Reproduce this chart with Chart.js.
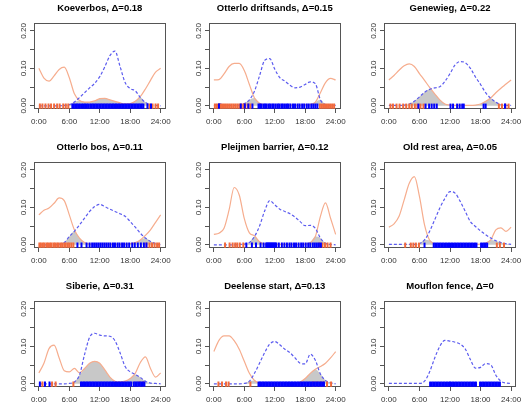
<!DOCTYPE html>
<html>
<head>
<meta charset="utf-8">
<script src="https://cdn.jsdelivr.net/npm/chart.js@4"></script>
<style>
  body { margin: 0; background: #fff; }
  #grid { position: relative; width: 526px; height: 412px; overflow: hidden; background: #fff; }
  #grid canvas { position: absolute; }
</style>
</head>
<body>
<div id="grid"></div>
<script>
const hours = [0, 1, 2, 3, 4, 5, 6, 7, 8, 9, 10, 11, 12, 13, 14, 15, 16, 17, 18, 19, 20, 21, 22, 23, 24];
const xTicks = [0, 6, 12, 18, 24];
const xTickLabels = ['0:00', '6:00', '12:00', '18:00', '24:00'];
const yTicks = [0, 0.05, 0.1, 0.15, 0.2];
const yTickLabels = ['0.00', '', '0.10', '', '0.20'];

const sites = ['Koeverbos', 'Otterlo driftsands', 'Genewieg', 'Otterlo bos', 'Pleijmen barrier',
  'Old rest area', 'Siberie', 'Deelense start', 'Mouflon fence'];
const deltas = [0.18, 0.15, 0.22, 0.11, 0.12, 0.05, 0.31, 0.13, 0];

// activity densities: orange = solid line, blue = dashed line
const koeverbosOrange = [0.100, 0.074, 0.066, 0.080, 0.097, 0.103, 0.075, 0.032, 0.014, 0.010, 0.010, 0.013, 0.019, 0.020, 0.016, 0.012, 0.008, 0.005, 0.006, 0.012, 0.025, 0.045, 0.068, 0.090, 0.100];
const koeverbosBlue = [0, 0, 0, 0, 0, 0.001, 0.003, 0.010, 0.022, 0.035, 0.048, 0.060, 0.078, 0.104, 0.134, 0.146, 0.105, 0.062, 0.046, 0.040, 0.022, 0.009, 0.003, 0.001, 0];
const driftsandsOrange = [0.069, 0.070, 0.085, 0.105, 0.113, 0.113, 0.094, 0.057, 0.021, 0.007, 0.003, 0.002, 0.002, 0.002, 0.002, 0.002, 0.002, 0.002, 0.003, 0.004, 0.010, 0.035, 0.062, 0.073, 0.069];
const driftsandsBlue = [0.001, 0.006, 0.002, 0.001, 0.001, 0.002, 0.006, 0.016, 0.039, 0.080, 0.121, 0.126, 0.098, 0.075, 0.066, 0.055, 0.048, 0.050, 0.057, 0.064, 0.059, 0.016, 0.003, 0.001, 0.001];
const genewiegOrange = [0.069, 0.081, 0.095, 0.107, 0.112, 0.105, 0.086, 0.068, 0.049, 0.032, 0.016, 0.005, 0.002, 0.001, 0.001, 0.001, 0.001, 0.002, 0.005, 0.012, 0.021, 0.035, 0.047, 0.058, 0.069];
const genewiegBlue = [0.001, 0.001, 0.001, 0.002, 0.005, 0.012, 0.024, 0.036, 0.044, 0.048, 0.051, 0.065, 0.086, 0.109, 0.118, 0.115, 0.100, 0.077, 0.057, 0.035, 0.020, 0.010, 0.003, 0.001, 0.001];
const bosOrange = [0.080, 0.092, 0.098, 0.111, 0.125, 0.118, 0.080, 0.040, 0.018, 0.006, 0.002, 0.002, 0.002, 0.002, 0.002, 0.002, 0.002, 0.002, 0.003, 0.006, 0.013, 0.025, 0.040, 0.060, 0.080];
const bosBlue = [0, 0, 0, 0, 0.002, 0.006, 0.022, 0.036, 0.053, 0.071, 0.089, 0.102, 0.108, 0.102, 0.095, 0.089, 0.083, 0.076, 0.062, 0.047, 0.031, 0.018, 0.009, 0.003, 0];
const pleijmenOrange = [0.028, 0.031, 0.044, 0.093, 0.153, 0.133, 0.070, 0.032, 0.024, 0.008, 0.002, 0.001, 0.001, 0.001, 0.001, 0.001, 0.001, 0.001, 0.002, 0.006, 0.022, 0.076, 0.112, 0.071, 0.028];
const pleijmenBlue = [0, 0, 0, 0, 0, 0.001, 0.002, 0.006, 0.022, 0.050, 0.090, 0.118, 0.107, 0.095, 0.089, 0.083, 0.074, 0.062, 0.051, 0.052, 0.044, 0.018, 0.004, 0.001, 0];
const restOrange = [0.047, 0.056, 0.076, 0.120, 0.164, 0.182, 0.129, 0.053, 0.012, 0.003, 0.001, 0.001, 0.001, 0.001, 0.001, 0.001, 0.001, 0.001, 0.002, 0.005, 0.013, 0.040, 0.045, 0.036, 0.047];
const restBlue = [0.001, 0.001, 0.001, 0.001, 0.001, 0.001, 0.003, 0.013, 0.036, 0.067, 0.098, 0.124, 0.142, 0.138, 0.116, 0.089, 0.062, 0.049, 0.037, 0.027, 0.018, 0.011, 0.006, 0.003, 0.001];
const siberieOrange = [0.029, 0.055, 0.094, 0.103, 0.069, 0.035, 0.032, 0.041, 0.029, 0.041, 0.055, 0.060, 0.055, 0.037, 0.018, 0.007, 0.005, 0.007, 0.014, 0.028, 0.057, 0.072, 0.041, 0.018, 0.029];
const siberieBlue = [0, 0, 0, 0, 0, 0, 0.001, 0.005, 0.023, 0.078, 0.124, 0.135, 0.130, 0.128, 0.127, 0.115, 0.083, 0.046, 0.032, 0.025, 0.017, 0.007, 0.002, 0.001, 0];
const deelenseOrange = [0.086, 0.116, 0.128, 0.128, 0.115, 0.092, 0.060, 0.028, 0.009, 0.002, 0.001, 0.001, 0.001, 0.001, 0.001, 0.001, 0.002, 0.005, 0.014, 0.028, 0.039, 0.046, 0.055, 0.069, 0.086];
const deelenseBlue = [0, 0, 0, 0, 0, 0, 0.001, 0.007, 0.028, 0.055, 0.083, 0.106, 0.113, 0.104, 0.092, 0.083, 0.069, 0.055, 0.053, 0.079, 0.063, 0.026, 0.009, 0.003, 0];
const mouflonOrange = [];
const mouflonBlue = [0.001, 0.001, 0.001, 0.001, 0.001, 0.001, 0.001, 0.007, 0.032, 0.069, 0.100, 0.116, 0.114, 0.111, 0.106, 0.093, 0.065, 0.042, 0.044, 0.054, 0.051, 0.023, 0.007, 0.002, 0.001];

// rug: observation times (hours)
const koeverbosRugOrange = [0.2, 0.7, 1.3, 1.9, 2.4, 3.0, 3.6, 4.1, 4.8, 5.3, 5.8, 21.8, 22.4, 23.0, 23.5];
const koeverbosRugBlue = [6.6, 6.9, 7.2, 7.5, 7.8, 8.1, 8.5, 8.8, 9.1, 9.4, 9.7, 10.1, 10.4, 10.7, 11.0, 11.3, 11.6, 11.9, 12.2, 12.5, 12.8, 13.1, 13.4, 13.7, 14.0, 14.3, 14.6, 14.9, 15.2, 15.5, 15.8, 16.1, 16.4, 16.7, 17.0, 17.3, 17.6, 17.9, 18.2, 18.5, 18.8, 19.1, 19.4, 19.7, 20.0, 20.3, 20.6, 21.4, 22.1];
const driftsandsRugOrange = [0.2, 0.6, 1.0, 1.4, 1.8, 2.2, 2.6, 3.0, 3.4, 3.8, 4.2, 4.6, 5.0, 5.4, 5.8, 6.2, 6.7, 7.2, 20.9, 21.3, 21.7, 22.1, 22.5, 22.9, 23.3, 23.7];
const driftsandsRugBlue = [1.0, 5.3, 6.1, 6.8, 7.6, 8.8, 9.1, 9.4, 9.8, 10.1, 10.4, 10.8, 11.1, 11.5, 11.8, 12.2, 12.6, 12.9, 13.3, 13.6, 14.0, 14.4, 14.7, 15.1, 15.6, 16.0, 16.5, 16.9, 17.4, 17.8, 18.3, 18.7, 19.2, 19.6, 20.0, 20.4];
const genewiegRugOrange = [0.3, 0.8, 1.5, 2.1, 2.8, 3.4, 4.0, 4.5, 5.1, 5.6, 6.2, 6.8, 21.6, 22.2, 22.9, 23.5];
const genewiegRugBlue = [5.8, 7.2, 7.9, 8.4, 8.9, 9.4, 12.1, 12.6, 13.4, 13.9, 14.4, 14.7, 18.6, 19.0, 22.8];
const bosRugOrange = [0.1, 0.4, 0.8, 1.1, 1.5, 1.8, 2.2, 2.5, 2.9, 3.2, 3.6, 3.9, 4.3, 4.6, 5.0, 5.3, 5.7, 6.0, 6.4, 6.8, 21.2, 21.8, 22.3, 22.8, 23.3, 23.7];
const bosRugBlue = [7.6, 8.4, 9.4, 10.0, 10.5, 10.9, 11.3, 11.7, 12.1, 12.5, 12.9, 13.3, 13.7, 14.1, 14.6, 15.0, 15.5, 15.9, 16.4, 16.8, 17.3, 17.8, 18.4, 18.9, 19.5, 20.1, 20.7, 21.2];
const pleijmenRugOrange = [2.2, 3.1, 3.7, 4.2, 4.6, 5.1, 5.8, 20.8, 21.4, 21.9, 22.4, 23.0];
const pleijmenRugBlue = [6.4, 7.5, 8.3, 9.2, 9.8, 10.3, 10.5, 10.7, 10.9, 11.1, 11.3, 11.5, 11.7, 11.9, 12.1, 12.3, 12.8, 13.4, 13.9, 14.4, 14.9, 15.3, 15.8, 16.2, 16.7, 17.2, 17.6, 18.1, 18.6, 19.0, 19.5, 19.9, 20.3, 20.7, 21.1];
const restRugOrange = [3.2, 4.3, 4.8, 5.3, 5.9, 21.2, 21.8, 22.6];
const restRugBlue = [7.0, 8.8, 9.1, 9.4, 9.7, 10.0, 10.3, 10.6, 10.9, 11.2, 11.5, 11.8, 12.1, 12.4, 12.7, 13.0, 13.3, 13.6, 13.9, 14.2, 14.5, 14.8, 15.1, 15.4, 15.7, 16.0, 16.3, 16.6, 16.9, 17.2, 18.1, 18.4, 18.7, 19.0, 19.3];
const siberieRugOrange = [0.7, 2.6, 3.3, 6.8, 19.8, 20.6];
const siberieRugBlue = [0.2, 1.2, 2.1, 8.3, 8.6, 8.9, 9.2, 9.5, 9.8, 10.1, 10.4, 10.7, 11.0, 11.3, 11.6, 11.9, 12.2, 12.5, 12.8, 13.1, 13.4, 13.7, 14.0, 14.3, 14.6, 14.9, 15.2, 15.5, 15.8, 16.1, 16.4, 16.7, 17.0, 17.3, 17.6, 17.9, 18.2, 18.7, 19.0, 19.3, 19.6, 19.9, 20.2, 20.5, 20.8];
const deelenseRugOrange = [0.9, 1.6, 2.4, 2.9, 7.2, 19.6, 20.3, 21.0, 21.6, 22.3, 23.1];
const deelenseRugBlue = [8.8, 9.1, 9.4, 9.7, 10.0, 10.3, 10.6, 10.9, 11.2, 11.5, 11.8, 12.1, 12.4, 12.7, 13.0, 13.3, 13.6, 13.9, 14.2, 14.5, 14.8, 15.1, 15.4, 15.7, 16.0, 16.3, 16.6, 16.9, 17.2, 17.5, 17.8, 18.1, 18.4, 18.7, 19.0, 19.3, 19.6, 19.9, 20.2, 20.5, 20.8, 21.1, 21.4, 21.7];
const mouflonRugOrange = [];
const mouflonRugBlue = [8.1, 8.4, 8.7, 9.0, 9.3, 9.6, 9.9, 10.2, 10.5, 10.8, 11.1, 11.4, 11.7, 12.0, 12.3, 12.6, 12.9, 13.2, 13.5, 13.8, 14.1, 14.4, 14.7, 15.0, 15.3, 15.6, 15.9, 16.2, 16.5, 16.8, 17.1, 17.9, 18.2, 18.5, 18.8, 19.1, 19.4, 19.7, 20.0, 20.3, 20.6, 20.9, 21.2, 21.5, 21.8];

const orangeCurves = [koeverbosOrange, driftsandsOrange, genewiegOrange, bosOrange, pleijmenOrange, restOrange, siberieOrange, deelenseOrange, mouflonOrange];
const blueCurves = [koeverbosBlue, driftsandsBlue, genewiegBlue, bosBlue, pleijmenBlue, restBlue, siberieBlue, deelenseBlue, mouflonBlue];
const orangeRugs = [koeverbosRugOrange, driftsandsRugOrange, genewiegRugOrange, bosRugOrange, pleijmenRugOrange, restRugOrange, siberieRugOrange, deelenseRugOrange, mouflonRugOrange];
const blueRugs = [koeverbosRugBlue, driftsandsRugBlue, genewiegRugBlue, bosRugBlue, pleijmenRugBlue, restRugBlue, siberieRugBlue, deelenseRugBlue, mouflonRugBlue];

const FONT = "'Liberation Sans', Arial, sans-serif";
const colLeft = [0, 175, 350];
const rowTop = [0, 139, 278];

// box around the plot region, like R's bty="o"
const framePlugin = {
  id: 'frame',
  beforeDatasetsDraw(chart) {
    const { ctx, chartArea: a } = chart;
    ctx.save();
    ctx.strokeStyle = '#555';
    ctx.lineWidth = 1;
    ctx.strokeRect(Math.round(a.left) + 0.5, Math.round(a.top) + 0.5,
      Math.round(a.right - a.left) - 1, Math.round(a.bottom - a.top) - 1);
    ctx.restore();
  }
};

function curve(values, color, dash) {
  return {
    data: hours.map((h, i) => ({ x: h, y: values[i] })),
    borderColor: color,
    borderWidth: 1.2,
    borderDash: dash,
    pointRadius: 0,
    fill: false,
    cubicInterpolationMode: 'monotone'
  };
}

function rug(times, color) {
  return {
    data: times.map(t => ({ x: t, y: -0.001 })),
    showLine: false,
    pointStyle: 'line',
    pointRotation: 90,
    pointRadius: 2.6,
    pointBorderWidth: 2,
    pointBorderColor: color,
    pointBackgroundColor: color
  };
}

sites.forEach((site, i) => {
  const col = i % 3, row = Math.floor(i / 3);
  const canvas = document.createElement('canvas');
  canvas.width = col === 2 ? 176 : 175;
  canvas.height = 139;
  canvas.style.left = colLeft[col] + 'px';
  canvas.style.top = rowTop[row] + 'px';
  document.getElementById('grid').appendChild(canvas);

  const orange = orangeCurves[i], blue = blueCurves[i];
  const datasets = [rug(blueRugs[i], '#0000ff'), rug(orangeRugs[i], '#f26a3c'),
    curve(blue, '#5b5bef', [3, 2])];
  if (orange.length) {
    datasets.push(curve(orange, '#f6ad8e', []));
    // overlap region = area under the lower of the two curves
    const overlap = hours.map((h, k) => Math.min(orange[k], blue[k]));
    datasets.push({
      data: hours.map((h, k) => ({ x: h, y: overlap[k] })),
      borderWidth: 0,
      borderColor: 'rgba(0,0,0,0)',
      backgroundColor: '#c8c8c8',
      pointRadius: 0,
      fill: 'origin',
      cubicInterpolationMode: 'monotone'
    });
  }

  new Chart(canvas, {
    type: 'line',
    data: { datasets },
    options: {
      responsive: false,
      animation: false,
      devicePixelRatio: 1,
      layout: { padding: { left: 0, right: col === 2 ? 10 : 9, top: 0, bottom: 0 } },
      plugins: {
        legend: { display: false },
        tooltip: { enabled: false },
        title: {
          display: true,
          fullSize: false,
          text: site + ', \u0394=' + deltas[i],
          color: '#000',
          font: { family: FONT, size: 9.5, weight: 'bold' },
          padding: { top: 3, bottom: 8.6 }
        }
      },
      scales: {
        x: {
          type: 'linear',
          min: -0.96,
          max: 24.96,
          afterBuildTicks: s => { s.ticks = xTicks.map(v => ({ value: v })); },
          afterFit: s => { s.height = 30; },
          ticks: {
            autoSkip: false,
            maxRotation: 0,
            padding: 4,
            color: '#333',
            font: { family: FONT, size: 8 },
            callback: (v, k) => xTickLabels[k]
          },
          grid: { drawOnChartArea: false, drawTicks: true, tickLength: 4, color: '#555' },
          border: { display: false }
        },
        y: {
          min: -0.0085,
          max: 0.221,
          afterBuildTicks: s => { s.ticks = yTicks.map(v => ({ value: v })); },
          afterFit: s => { s.width = 34; },
          ticks: {
            autoSkip: false,
            minRotation: 90,
            maxRotation: 90,
            crossAlign: 'center',
            padding: -1.5,
            color: '#333',
            font: { family: FONT, size: 8 },
            callback: (v, k) => yTickLabels[k]
          },
          grid: { drawOnChartArea: false, drawTicks: true, tickLength: 4, color: '#555' },
          border: { display: false }
        }
      }
    },
    plugins: [framePlugin]
  });
});
</script>
</body>
</html>
